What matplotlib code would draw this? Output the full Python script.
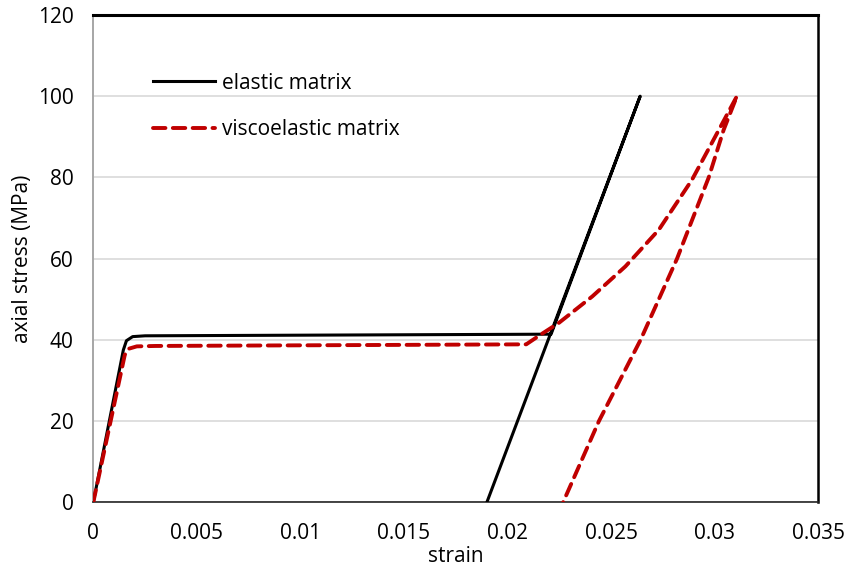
import numpy as np
import matplotlib.pyplot as plt

# data
elastic_strain = [0, 0.00145, 0.0016, 0.0019, 0.0025, 0.0221, 0.0264, 0.0190]
elastic_stress = [0, 37.5, 39.8, 40.8, 41.0, 41.4, 100, 0]

visco_strain = [0, 0.00152, 0.0017, 0.0021, 0.003, 0.0209, 0.0216, 0.02248, 0.02409,
                0.02569, 0.0273, 0.0289, 0.03003, 0.03107,
                0.03043, 0.02971, 0.02818, 0.02642, 0.02441, 0.02268]
visco_stress = [0, 36.3, 37.8, 38.4, 38.5, 38.9, 41.3, 44.2, 50.7,
                58.1, 67.1, 79.4, 90.1, 100,
                91.7, 80, 60, 40, 20, 0]

x_ticks = [0, 0.005, 0.01, 0.015, 0.02, 0.025, 0.03, 0.035]
x_tick_labels = ['0', '0.005', '0.01', '0.015', '0.02', '0.025', '0.03', '0.035']
y_ticks = [0, 20, 40, 60, 80, 100, 120]

plt.rcParams['font.family'] = ['Open Sans', 'DejaVu Sans']
FS = 15

fig = plt.figure(figsize=(8.45, 5.73), dpi=100)
ax = fig.add_axes([93.3/845, 1 - 502.3/573, 725/845, 487.3/573])

ax.plot(elastic_strain, elastic_stress, color='black', lw=2.2,
        solid_joinstyle='round', label='elastic matrix', zorder=3)
ax.plot(visco_strain, visco_stress, color='#C00000', lw=2.8, dashes=(3.2, 1.9),
        dash_capstyle='round', dash_joinstyle='round', label='viscoelastic matrix', zorder=4)

ax.set_xlim(0, 0.035)
ax.set_ylim(0, 120)
ax.set_xticks(x_ticks)
ax.set_xticklabels(x_tick_labels)
ax.set_yticks(y_ticks)
ax.tick_params(length=0, labelsize=FS)
ax.tick_params(axis='x', pad=15)
ax.tick_params(axis='y', pad=14)

ax.grid(axis='y', color='#D9D9D9', lw=1.2)
ax.set_axisbelow(True)

ax.spines['top'].set_linewidth(2.2)
ax.spines['top'].set_color('black')
ax.spines['right'].set_linewidth(1.8)
ax.spines['right'].set_color('black')
ax.spines['left'].set_linewidth(1.4)
ax.spines['left'].set_color('#A6A6A6')
ax.spines['bottom'].set_linewidth(1.2)
ax.spines['bottom'].set_color('#262626')

ax.set_xlabel('strain', fontsize=FS, labelpad=1)
ax.set_ylabel('axial stress (MPa)', fontsize=FS, labelpad=4)

ax.legend(loc='upper left', bbox_to_anchor=(0.056, 0.92), frameon=False,
          fontsize=FS, handlelength=3.0, handletextpad=0.34, labelspacing=1.21)

fig.savefig('out.png', dpi=100)
